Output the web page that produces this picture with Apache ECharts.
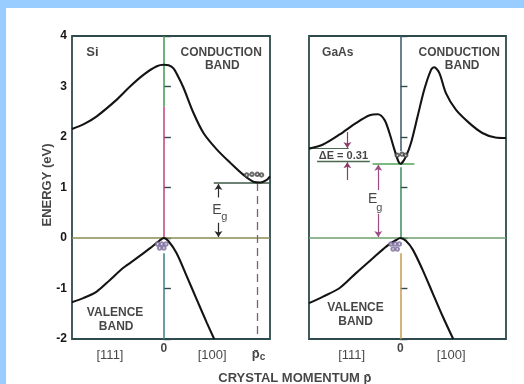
<!DOCTYPE html>
<html><head><meta charset="utf-8">
<script src="https://cdn.jsdelivr.net/npm/echarts@6/dist/echarts.min.js"></script>
<style>
html,body{margin:0;padding:0;background:#99ccff;width:524px;height:384px;overflow:hidden}
#paper{position:absolute;left:6px;top:8px;width:518px;height:376px;background:#fff}
#chart{position:absolute;left:0;top:0;width:524px;height:384px}
</style></head><body>
<div id="paper"></div><div id="chart"></div>
<script>
// ---- axis ranges / ticks ----
const kMin = -0.866, kMax = 1.0;        // L point ... X point (units of 2π/a)
const energyTicks = [-2, -1, 0, 1, 2, 3, 4];

// ---- Si bands ----
const siCondK = [-0.866,-0.75,-0.633,-0.444,-0.319,-0.193,-0.067,0,0.045,0.09,0.134,0.184,0.278,0.373,0.5,0.625,0.75,0.85,0.91,0.97,1.0];
const siCondE = [2.16,2.26,2.41,2.74,3.00,3.23,3.40,3.43,3.42,3.36,3.20,2.98,2.48,2.08,1.75,1.49,1.25,1.11,1.10,1.15,1.22];
const siValK  = [-0.866,-0.76,-0.633,-0.508,-0.382,-0.256,-0.13,-0.04,0,0.042,0.12,0.216,0.31,0.405,0.474];
const siValE  = [-1.27,-1.19,-1.06,-0.83,-0.59,-0.40,-0.20,-0.05,0,-0.06,-0.30,-0.76,-1.22,-1.68,-2.0];
const siEg = 1.09, siPc = 0.876;
const siElecK = [0.78,0.83,0.88,0.92], siElecE = [1.25,1.26,1.26,1.25];
const siHoleK = [-0.06,-0.02,0.02,-0.04,0.0], siHoleE = [-0.12,-0.12,-0.12,-0.2,-0.2];

// ---- GaAs bands ----
const gaCondK = [-0.866,-0.733,-0.575,-0.418,-0.292,-0.214,-0.151,-0.104,-0.057,-0.02,0,0.02,0.054,0.1,0.163,0.226,0.29,0.32,0.368,0.431,0.525,0.65,0.776,0.9,1.0];
const gaCondE = [1.77,1.85,2.05,2.28,2.43,2.45,2.34,2.08,1.75,1.52,1.47,1.50,1.62,1.88,2.41,2.94,3.33,3.38,3.27,2.87,2.54,2.28,2.08,1.99,1.98];
const gaValK  = [-0.866,-0.733,-0.575,-0.418,-0.261,-0.135,-0.04,0,0.054,0.117,0.21,0.305,0.4,0.5];
const gaValE  = [-1.29,-1.16,-0.99,-0.69,-0.40,-0.17,-0.04,0,-0.06,-0.23,-0.63,-1.09,-1.55,-2.0];
const gaEg = 1.47, gaLvalley = 1.77;
const gaElecK = [-0.03,0.015,0.05], gaElecE = [1.64,1.66,1.64];
const gaHoleK = [-0.09,-0.05,-0.01,-0.07,-0.03], gaHoleE = [-0.12,-0.12,-0.12,-0.22,-0.22];

// ---- text labels (text, k, E, size, weight) ----
const siTexts = [
  ['Si', -0.673, 3.67, 13, 'bold'], ['CONDUCTION', 0.54, 3.67, 12, 'bold'], ['BAND', 0.55, 3.41, 12, 'bold'],
  ['VALENCE', -0.46, -1.48, 12, 'bold'], ['BAND', -0.45, -1.76, 12, 'bold'],
  ['[111]', -0.508, -2.33, 13, 'normal'], ['0', 0, -2.2, 12, 'bold'], ['[100]', 0.455, -2.33, 13, 'normal'],
  ['p\u0304', 0.865, -2.31, 13, 'bold'], ['c', 0.93, -2.36, 10, 'bold'],
  ['E', 0.50, 0.56, 14, 'normal'], ['g', 0.57, 0.42, 11, 'normal']
];
const gaTexts = [
  ['GaAs', -0.594, 3.67, 12, 'bold'], ['CONDUCTION', 0.557, 3.67, 12, 'bold'], ['BAND', 0.585, 3.41, 12, 'bold'],
  ['VALENCE', -0.425, -1.38, 12, 'bold'], ['BAND', -0.425, -1.66, 12, 'bold'],
  ['[111]', -0.462, -2.33, 13, 'normal'], ['0', 0, -2.2, 12, 'bold'], ['[100]', 0.481, -2.33, 13, 'normal'],
  ['\u0394E = 0.31', -0.54, 1.63, 11, 'bold'],
  ['E', -0.264, 0.76, 14, 'normal'], ['g', -0.2, 0.6, 11, 'normal'],
  ['CRYSTAL MOMENTUM p\u0304', -1.0, -2.78, 13, 'bold']
];

const FONT = 'Liberation Sans, Arial, sans-serif';
const zip = (a, b) => a.map((v, i) => [v, b[i]]);

function curve(k, e, gi) {
  return { type: 'line', xAxisIndex: gi, yAxisIndex: gi, data: zip(k, e), smooth: 0.3,
    showSymbol: false, symbol: 'none', lineStyle: { color: '#141414', width: 2.1 }, silent: true, z: 5 };
}
function seg(pts, gi, color, width, type, arrow) {
  return { type: 'lines', coordinateSystem: 'cartesian2d', xAxisIndex: gi, yAxisIndex: gi, silent: true,
    symbol: arrow ? ['none', 'arrow'] : ['none', 'none'], symbolSize: 6, z: 4,
    data: [{ coords: pts }], lineStyle: { color: color, width: width, type: type || 'solid', opacity: 1 } };
}
function dots(k, e, gi, color) {
  return { type: 'scatter', xAxisIndex: gi, yAxisIndex: gi, data: zip(k, e), symbol: 'emptyCircle',
    symbolSize: 3.5, itemStyle: { color: color, borderColor: color, borderWidth: 1 }, silent: true, z: 6 };
}
function texts(arr, gi) {
  return { type: 'scatter', xAxisIndex: gi, yAxisIndex: gi, clip: false, symbolSize: 0, silent: true, z: 10,
    data: arr.map(t => ({ value: [t[1], t[2]], name: t[0],
      label: { fontSize: t[3], fontWeight: t[4] } })),
    label: { show: true, position: 'inside', formatter: p => p.name, color: '#161616', fontFamily: FONT,
      align: 'center', verticalAlign: 'middle' } };
}

const grids = [
  { left: 72, top: 36, width: 198, height: 303 },
  { left: 309, top: 36, width: 197, height: 303 }
].map(g => Object.assign(g, { show: true, borderColor: '#2e4a4c', borderWidth: 1.8, backgroundColor: 'transparent' }));

const xAxes = [0, 1].map(i => ({ type: 'value', gridIndex: i, min: kMin, max: kMax,
  axisLine: { show: false }, axisTick: { show: false }, axisLabel: { show: false }, splitLine: { show: false } }));
const yAxes = [0, 1].map(i => ({ type: 'value', gridIndex: i, min: energyTicks[0], max: energyTicks[energyTicks.length - 1], interval: 1,
  axisLine: { show: false }, splitLine: { show: false },
  axisTick: { show: true, inside: true, length: 7, lineStyle: { color: '#2e4a4c', width: 1.4 } },
  axisLabel: { show: i === 0, margin: 5, color: '#161616', fontFamily: FONT, fontWeight: 'bold', fontSize: 12 } }));

const series = [
  // Si panel
  seg([[0, 4], [0, 2.6]], 0, '#3f9a4c', 1.5),
  seg([[0, 2.6], [0, 0]], 0, '#c3407c', 1.5),
  seg([[0, -0.3], [0, -2]], 0, '#3a7f86', 1.5),
  seg([[kMin, 0], [kMax, 0]], 0, '#8a8c52', 1.6),
  seg([[0.47, siEg], [kMax, siEg]], 0, '#3e5a46', 1.5),
  seg([[siPc, siEg], [siPc, -2]], 0, '#6a6a6a', 1.3, [8, 5]),
  seg([[0.514, 0.8], [0.514, siEg - 0.02]], 0, '#2a2a2a', 1.2, 'solid', true),
  seg([[0.514, 0.3], [0.514, 0.02]], 0, '#2a2a2a', 1.2, 'solid', true),
  curve(siCondK, siCondE, 0),
  curve(siValK, siValE, 0),
  dots(siElecK, siElecE, 0, '#444'),
  dots(siHoleK, siHoleE, 0, '#7a6a9a'),
  texts(siTexts, 0),
  // GaAs panel
  seg([[0, 4], [0, 1.72]], 1, '#3a5868', 1.5),
  seg([[0, 1.40], [0, 0]], 1, '#3c8a5c', 1.5),
  seg([[0, -0.3], [0, -2]], 1, '#c89a52', 1.5),
  seg([[kMin, 0], [kMax, 0]], 1, '#6ea06e', 1.6),
  seg([[-0.264, gaEg], [0.132, gaEg]], 1, '#4fa457', 1.5),
  seg([[-0.79, 1.51], [-0.29, 1.51]], 1, '#4c6a50', 1.4),
  seg([[kMin, gaLvalley], [-0.49, gaLvalley]], 1, '#4c6a50', 1.0),
  seg([[-0.503, 2.1], [-0.503, gaLvalley + 0.01]], 1, '#8a3c6c', 1.2, 'solid', true),
  seg([[-0.503, 1.15], [-0.503, 1.50]], 1, '#8a3c6c', 1.2, 'solid', true),
  seg([[-0.21, 0.95], [-0.21, gaEg - 0.02]], 1, '#a04c84', 1.2, 'solid', true),
  seg([[-0.21, 0.48], [-0.21, 0.02]], 1, '#a04c84', 1.2, 'solid', true),
  curve(gaCondK, gaCondE, 1),
  curve(gaValK, gaValE, 1),
  dots(gaElecK, gaElecE, 1, '#444'),
  dots(gaHoleK, gaHoleE, 1, '#7a6a9a'),
  texts(gaTexts, 1),
  // vertical axis title
  { type: 'scatter', xAxisIndex: 0, yAxisIndex: 0, clip: false, symbolSize: 0, silent: true,
    data: [{ value: [-1.10, 1.05], name: 'ENERGY (eV)' }],
    label: { show: true, position: 'inside', rotate: 90, formatter: p => p.name, color: '#161616',
      fontFamily: FONT, fontWeight: 'bold', fontSize: 13 } }
];

const chart = echarts.init(document.getElementById('chart'), null, { renderer: 'canvas' });
chart.setOption({ animation: false, backgroundColor: 'transparent', grid: grids, xAxis: xAxes, yAxis: yAxes, series: series });
</script>
</body></html>
